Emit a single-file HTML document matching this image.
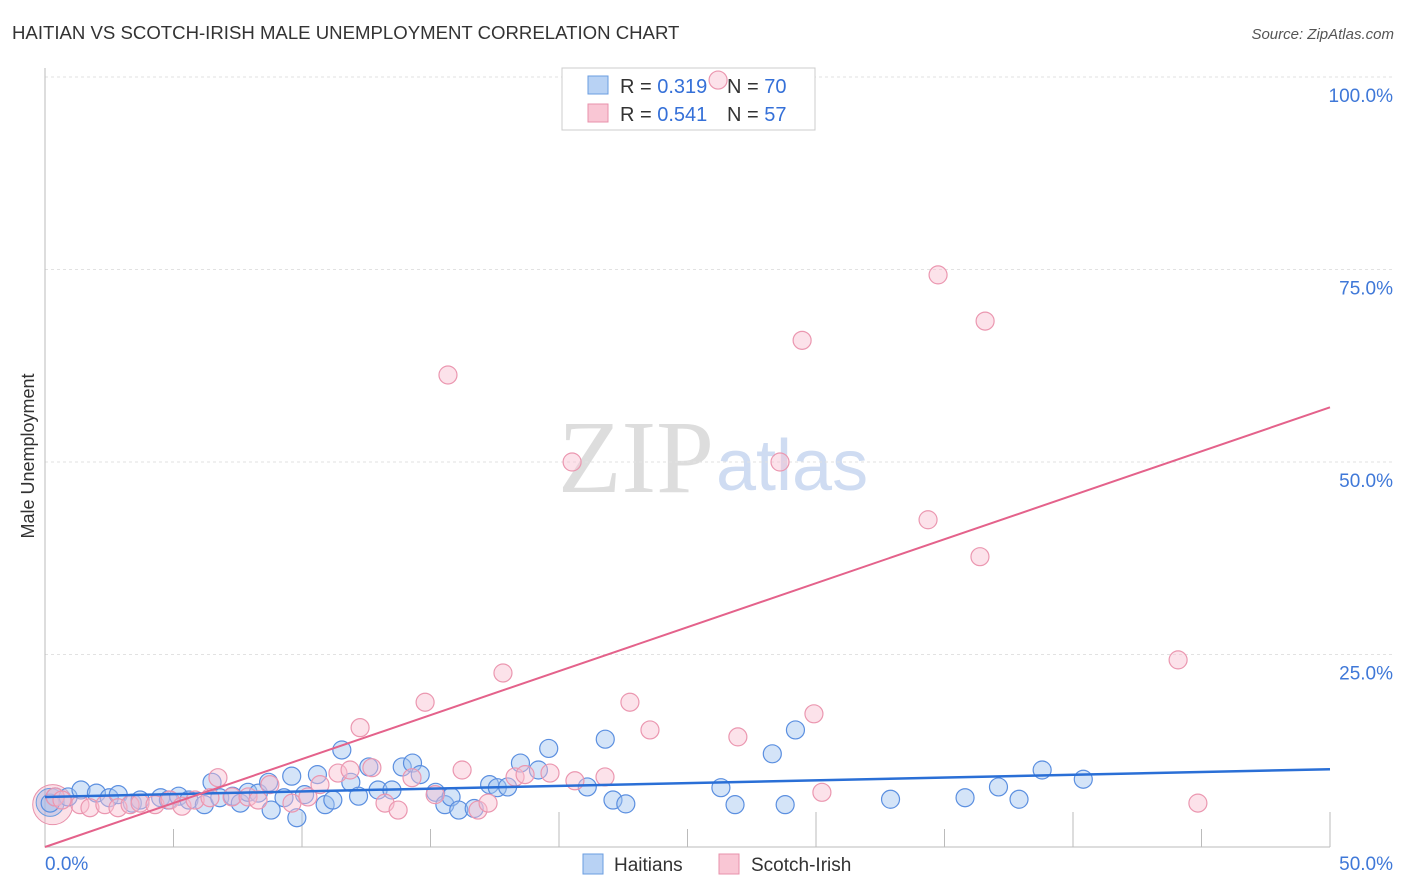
<!DOCTYPE html>
<html><head><meta charset="utf-8"><style>
body{margin:0;background:#fff;font-family:"Liberation Sans",sans-serif}
</style></head><body>
<svg width="1406" height="892" style="position:absolute;left:0;top:0">
<text x="12" y="39" font-size="18.6" fill="#333">HAITIAN VS SCOTCH-IRISH MALE UNEMPLOYMENT CORRELATION CHART</text>
<text x="1394" y="39" font-size="15" fill="#555" font-style="italic" text-anchor="end">Source: ZipAtlas.com</text>
<text x="34" y="456" font-size="18" fill="#333" transform="rotate(-90 34 456)" text-anchor="middle">Male Unemployment</text>
<text x="714" y="492" font-size="104" fill="#ddd" text-anchor="end" font-family="Liberation Serif">ZIP</text>
<text x="716" y="490" font-size="72" fill="#cfdcf2">atlas</text>
<g id="grid"></g><g id="axes"></g>
<rect x="562" y="68" width="253" height="62" fill="#fff" stroke="#ccc"/>
<rect x="588" y="76" width="20" height="18" fill="#b8d2f4" stroke="#6a9de0"/>
<rect x="588" y="104" width="20" height="18" fill="#f9c6d4" stroke="#e891ab"/>
<text x="620" y="93" font-size="20" fill="#333">R = <tspan fill="#3570d8">0.319</tspan></text>
<text x="727" y="93" font-size="20" fill="#333">N = <tspan fill="#3570d8">70</tspan></text>
<text x="620" y="121" font-size="20" fill="#333">R = <tspan fill="#3570d8">0.541</tspan></text>
<text x="727" y="121" font-size="20" fill="#333">N = <tspan fill="#3570d8">57</tspan></text>
<g id="pts"></g><g id="lines"></g>
<rect x="583" y="854" width="20" height="20" fill="#b8d2f4" stroke="#6a9de0"/>
<text x="614" y="871" font-size="19" fill="#333">Haitians</text>
<rect x="719" y="854" width="20" height="20" fill="#f9c6d4" stroke="#e891ab"/>
<text x="751" y="871" font-size="19" fill="#333">Scotch-Irish</text>
</svg>
<script>
const yTicks=[25,50,75,100];
const xLabels=["0.0%","50.0%"];
const blueX=[0.2,0.4,0.9,1.4,2.0,2.5,2.85,3.4,3.7,4.5,4.8,5.2,5.6,6.2,6.5,6.8,7.3,7.6,7.9,8.3,8.7,8.8,9.3,9.6,9.8,10.1,10.6,10.9,11.2,11.55,11.9,12.2,12.6,12.96,13.5,13.9,14.3,14.6,15.2,15.56,15.8,16.1,16.7,17.3,17.6,18.0,18.5,19.2,19.6,21.1,21.8,22.1,22.6,26.3,26.85,28.3,28.8,29.2,32.9,35.8,37.1,37.9,38.8,40.4];
const blueY=[5.7,6.5,6.5,7.4,7.0,6.4,6.8,5.7,6.1,6.4,6.1,6.6,6.1,5.5,8.4,6.4,6.6,5.7,7.1,7.0,8.4,4.8,6.4,9.2,3.8,6.8,9.4,5.5,6.1,12.6,8.4,6.6,10.4,7.4,7.4,10.4,10.9,9.4,7.1,5.5,6.5,4.8,5.0,8.1,7.7,7.8,10.9,10.0,12.8,7.8,14.0,6.1,5.6,7.7,5.5,12.1,5.5,15.2,6.2,6.4,7.8,6.2,10.0,8.8];
const pinkX=[0.39,0.66,1.36,1.75,2.33,2.84,3.31,3.70,4.28,4.86,5.33,5.84,6.42,6.73,7.28,7.90,8.29,8.75,9.61,10.23,10.70,11.40,11.87,12.26,12.72,13.23,13.74,14.28,14.79,15.18,15.68,16.23,16.85,17.24,17.82,18.29,18.68,19.65,20.51,20.62,21.79,22.76,23.54,26.19,26.96,28.60,29.46,29.92,30.23,34.36,34.75,36.38,36.58,44.09,44.86];
const pinkY=[6.5,6.1,5.5,5.1,5.5,5.1,5.5,5.7,5.5,6.1,5.3,6.1,6.4,9.0,6.5,6.5,6.1,8.1,5.7,6.5,8.1,9.6,10.0,15.5,10.3,5.7,4.8,9.0,18.8,6.8,61.3,10.0,4.8,5.7,22.6,9.1,9.4,9.6,50.0,8.6,9.1,18.8,15.2,99.6,14.3,50.0,65.8,17.3,7.1,42.5,74.3,37.7,68.3,24.3,5.7];
const blueLine=[6.5,10.1], pinkLine=[0,57.1];
const NS="http://www.w3.org/2000/svg";
const X=v=>45+v/50*1285, Y=v=>847-v/25*192.5;
function mk(p,t,a){const e=document.createElementNS(NS,t);for(const k in a)e.setAttribute(k,a[k]);p.appendChild(e);return e;}
const grid=document.getElementById('grid'),axes=document.getElementById('axes'),pts=document.getElementById('pts'),lines=document.getElementById('lines');
yTicks.forEach(t=>{
 const l=mk(grid,'line',{x1:45,x2:1393,y1:Y(t),y2:Y(t),stroke:'#e2e2e2','stroke-dasharray':'3 3'});
 
 
 const tx=mk(grid,'text',{x:1393,y:Y(t)+25,'font-size':19,fill:'#3f78d8','text-anchor':'end'});tx.textContent=t.toFixed(1)+'%';
 
 
});
const ax=mk(axes,'path',{d:'M45 68 V847 H1330',stroke:'#bbb',fill:'none'});


for(let i=1;i<=10;i++){const t=mk(axes,'line',{x1:X(i*5),x2:X(i*5),y1:i%2?829:812,y2:847,stroke:'#bbb'});
 
 }
xLabels.forEach((s,i)=>{const t=mk(axes,'text',{x:i?1393:45,y:870,'font-size':19,fill:'#3f78d8','text-anchor':i?'end':'start'});t.textContent=s;
 
 });
mk(pts,'circle',{cx:X(0.3),cy:Y(5.5),r:20,fill:'rgba(244,170,190,0.35)',stroke:'#e891ab'});
mk(pts,'circle',{cx:X(0.2),cy:Y(5.8),r:14,fill:'rgba(120,160,225,0.3)',stroke:'#6a9de0'});
blueX.forEach((x,i)=>{const c=mk(pts,'circle',{cx:X(x),cy:Y(blueY[i]),r:9,fill:'rgba(160,195,240,0.45)',stroke:'#5b8fe0','stroke-width':1.2});
 
 });
pinkX.forEach((x,i)=>{const c=mk(pts,'circle',{cx:X(x),cy:Y(pinkY[i]),r:9,fill:'rgba(249,190,208,0.45)',stroke:'#eb97b0','stroke-width':1.2});
 
 });
const bl=mk(lines,'line',{x1:X(0),x2:X(50),y1:Y(blueLine[0]),y2:Y(blueLine[1]),stroke:'#2a6fd6','stroke-width':2.5});


const pl=mk(lines,'line',{x1:X(0),x2:X(50),y1:Y(pinkLine[0]),y2:Y(pinkLine[1]),stroke:'#e4628b','stroke-width':2});


</script>
</body></html>
